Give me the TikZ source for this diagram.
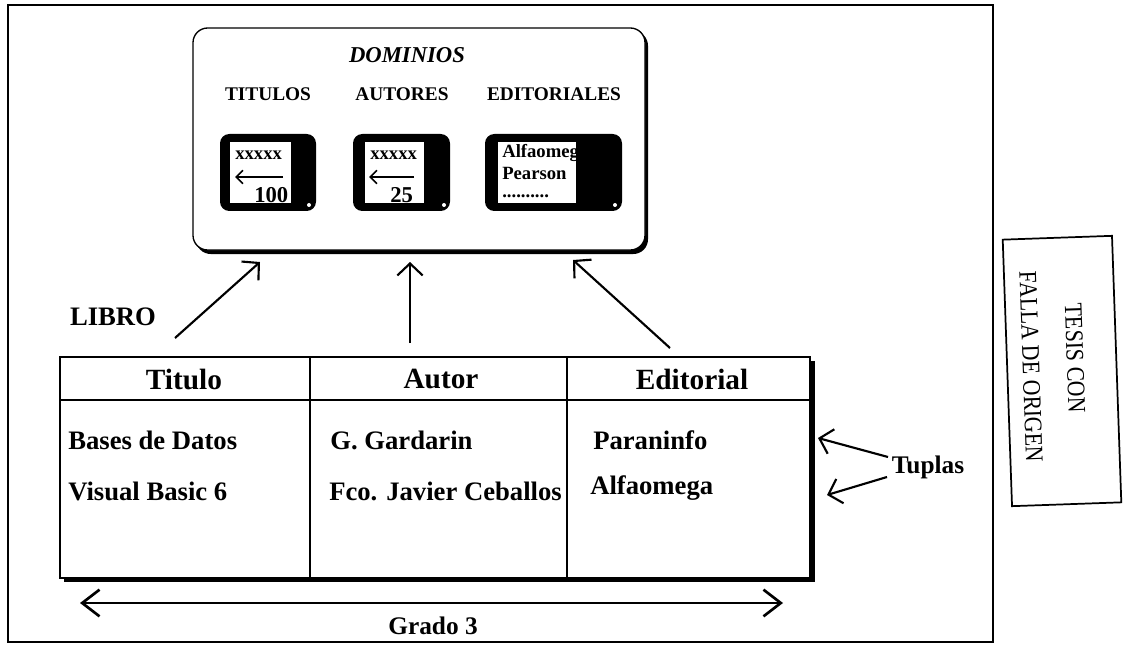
\documentclass[tikz,border=0pt]{standalone}
\usepackage{fontspec}
\setmainfont{Liberation Serif}
\newfontfamily\stampfont[FakeStretch=0.86]{Liberation Serif}
\usetikzlibrary{arrows.meta,fit}
\tikzset{
  frame/.style={line width=1.5pt},
  hdr/.style={font=\fontsize{22}{26}\selectfont\bfseries, inner sep=0pt},
  cell/.style={font=\fontsize{20}{23}\selectfont\bfseries, anchor=west, inner sep=0pt},
  lbl/.style={font=\fontsize{20}{24}\selectfont\bfseries, inner sep=0pt},
  dtitle/.style={font=\fontsize{17}{20}\selectfont\bfseries\itshape, inner sep=0pt},
  dhdr/.style={font=\fontsize{14.5}{17}\selectfont\bfseries, inner sep=0pt},
  ictxt/.style={font=\fontsize{14}{15}\selectfont\bfseries, anchor=west, inner sep=0pt},
  icnum/.style={font=\fontsize{17}{19}\selectfont\bfseries, anchor=west, inner sep=0pt},
  icon/.style={fill=black, rounded corners=7pt, inner sep=0pt},
  dombox/.style={draw, fill=white, line width=1pt, rounded corners=11pt, inner sep=0pt},
  tbl/.style={draw, fill=white, line width=0.9pt, inner sep=0pt},
  arr/.style={line width=1.6pt, -{Straight Barb[length=9pt,width=19pt,line width=1.6pt]}},
  iarr/.style={line width=1.3pt, -{Straight Barb[length=5pt,width=10pt,line width=1.3pt]}},
  darr/.style={line width=2pt, {Straight Barb[length=13pt,width=20pt,line width=2pt]}-{Straight Barb[length=13pt,width=20pt,line width=2pt]}},
  stampbox/.style={draw, line width=1.3pt, minimum width=200pt, minimum height=82pt, inner sep=0pt},
  stamptext/.style={font=\stampfont\fontsize{19}{22}\selectfont, inner sep=0pt, rotate=-88}
}
\begin{document}
\begin{tikzpicture}[x=0.75pt,y=-0.75pt]
\useasboundingbox (0,0) rectangle (1126,645);
\fill[white] (0,0) rectangle (1126,645);
% outer frame
\draw[frame] (8,5) rectangle (993,642);

% DOMINIOS box with shadow
\fill[black, rounded corners=11pt] (196,31) rectangle (648,254);
\node[dombox, fit={(193,28) (645,250)}] (dom) {};
\node[dtitle] (domt) at (407,55) {DOMINIOS};
\node[dhdr] (dh1) at (268,94) {TITULOS};
\node[dhdr] (dh2) at (402,94) {AUTORES};
\node[dhdr] (dh3) at (554,94) {EDITORIALES};

% icon 1
\node[icon, fit={(220,134) (316,211)}] (ic1) {};
\fill[white] (230,142) rectangle (291,203);
\begin{scope}
  \clip (230,142) rectangle (291,203);
  \node[ictxt] (ic1a) at (235,155) {xxxxx};
  \coordinate (ic1s) at (283,177);
  \coordinate (ic1e) at (235,177);
  \draw[iarr] (ic1s) -- (ic1e);
  \node[icnum] (ic1b) at (254,195) {100};
\end{scope}
\fill[white] (309,205) circle (1.5pt);

% icon 2
\node[icon, fit={(353,134) (450,211)}] (ic2) {};
\fill[white] (365,142) rectangle (424,203);
\begin{scope}
  \clip (365,142) rectangle (424,203);
  \node[ictxt] (ic2a) at (370,155) {xxxxx};
  \coordinate (ic2s) at (414,177);
  \coordinate (ic2e) at (369,177);
  \draw[iarr] (ic2s) -- (ic2e);
  \node[icnum] (ic2b) at (390,195) {25};
\end{scope}
\fill[white] (444,205) circle (1.5pt);

% icon 3
\node[icon, fit={(485,134) (622,211)}] (ic3) {};
\fill[white] (498,142) rectangle (576,203);
\begin{scope}
  \clip (498,142) rectangle (576,203);
  \node[ictxt] (ic3a) at (502,153) {Alfaomega};
  \node[ictxt] (ic3b) at (502,173) {Pearson};
  \node[ictxt] (ic3c) at (502,196) {..........};
\end{scope}
\fill[white] (615,205) circle (1.5pt);

% table with shadow
\fill[black] (64,361) rectangle (815,582);
\node[tbl, fit={(60,357) (810,578)}] (tab) {};
\draw[line width=0.9pt] (60,400) -- (810,400);
\draw[line width=0.9pt] (310,357) -- (310,578);
\draw[line width=0.9pt] (567,357) -- (567,578);
\node[hdr] (h1) at (184,379) {Titulo};
\node[hdr] (h2) at (441,379) {Autor};
\node[hdr] (h3) at (692,379) {Editorial};
\node[cell] (c11) at (68,440) {Bases de Datos};
\node[cell] (c21) at (68,491) {Visual Basic 6};
\node[cell] (c12) at (330,440) {G. Gardarin};
\node[cell] (c22) at (329,491) {Fco. Javier Ceballos};
\node[cell] (c13) at (593,440) {Paraninfo};
\node[cell] (c23) at (590,488) {Alfaomega};

% LIBRO label
\node[lbl] (libro) at (113,317) {LIBRO};

% arrows from table to domains
\coordinate (a1s) at (175,338); \coordinate (a1e) at (260,262);
\coordinate (a2s) at (410,343); \coordinate (a2e) at (410,262);
\coordinate (a3s) at (670,348); \coordinate (a3e) at (573,260);
\draw[arr] (a1s) -- (a1e);
\draw[arr] (a2s) -- (a2e);
\draw[arr] (a3s) -- (a3e);

% Tuplas
\node[lbl, font=\fontsize{19}{22}\selectfont\bfseries] (tuplas) at (928,467) {Tuplas};
\coordinate (t1s) at (888,457); \coordinate (t1e) at (818,438);
\coordinate (t2s) at (887,477); \coordinate (t2e) at (827,495);
\draw[arr] (t1s) -- (t1e);
\draw[arr] (t2s) -- (t2e);

% Grado
\coordinate (gl) at (80,603); \coordinate (gr) at (783,603);
\draw[darr] (gl) -- (gr);
\node[lbl, font=\fontsize{19}{22}\selectfont\bfseries] (grado) at (433,626) {Grado 3};

% stamp
\node[stampbox, rotate=-88] (stamp) at (1062,371) {};
\node[stamptext] (stamp1) at (1075,358) {TESIS CON};
\node[stamptext] (stamp2) at (1031,367) {FALLA DE ORIGEN};
\end{tikzpicture}
\end{document}
